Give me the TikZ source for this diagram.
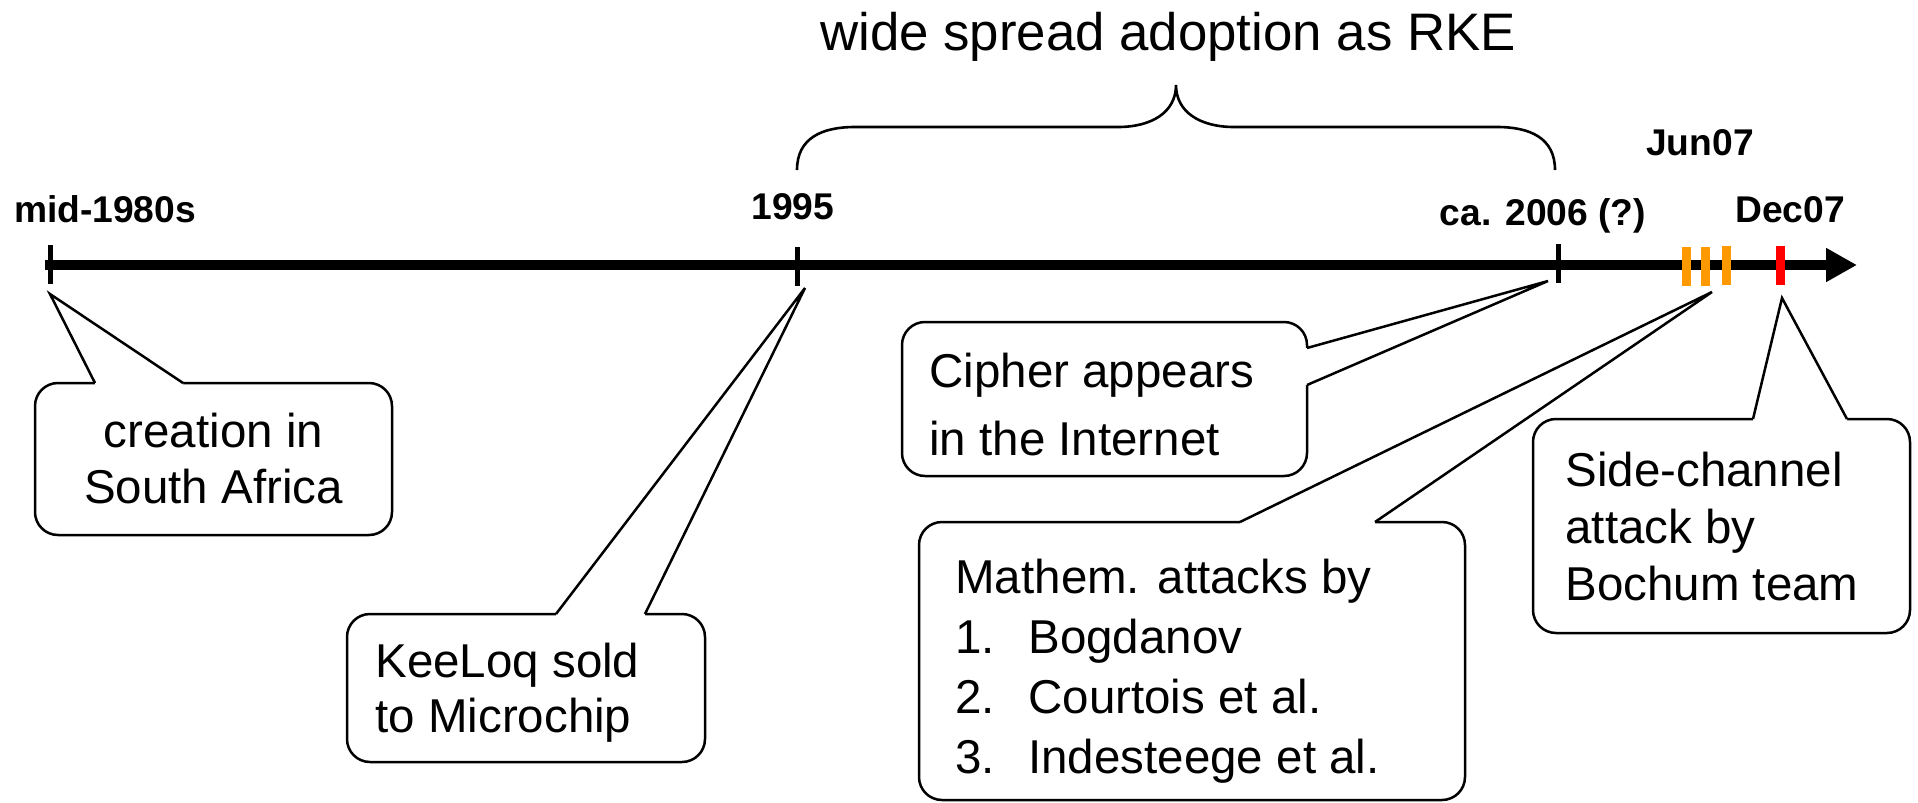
\documentclass[tikz,border=0pt]{standalone}
\usepackage{fontspec}
\setmainfont{Liberation Sans}
\usetikzlibrary{arrows.meta}
\definecolor{tickorange}{RGB}{255,153,0}
\definecolor{tickred}{RGB}{255,0,0}
\begin{document}
\begin{tikzpicture}[x=0.5pt,y=-0.5pt,
  box/.style={draw=black, line width=1.25pt, fill=white, rounded corners=11.5pt},
  tail/.style={draw=black, line width=1.25pt},
  cover/.style={fill=white, draw=none},
  txt/.style={inner sep=0pt, anchor=base west, font=\fontsize{23.75pt}{28pt}\selectfont},
  ctxt/.style={txt, anchor=base},
  lbl/.style={inner sep=0pt, anchor=base, font=\bfseries\fontsize{18.6pt}{22pt}\selectfont},
  title/.style={inner sep=0pt, anchor=base, font=\fontsize{26.4pt}{30pt}\selectfont},
  blacktick/.style={line width=2.5pt, draw=black},
  orangetick/.style={line width=4.5pt, draw=tickorange},
  redtick/.style={line width=4.5pt, draw=tickred},
  axis/.style={line width=5pt, draw=black, -{Triangle[length=15.5pt,width=16pt]}},
  bracestyle/.style={line width=1.3pt, draw=black}
]
\useasboundingbox (0,0) rectangle (1918,803);

% timeline
\coordinate (tstart) at (45,265);
\coordinate (tend) at (1857,265);
\draw[axis] (tstart) -- (tend);

% ticks
\coordinate (t1a) at (50,245);   \coordinate (t1b) at (50,284);
\coordinate (t2a) at (797,247);  \coordinate (t2b) at (797,286);
\coordinate (t3a) at (1558,244); \coordinate (t3b) at (1558,283);
\draw[blacktick] (t1a) -- (t1b);
\draw[blacktick] (t2a) -- (t2b);
\draw[blacktick] (t3a) -- (t3b);
\coordinate (o1a) at (1686,247); \coordinate (o1b) at (1686,286);
\coordinate (o2a) at (1705,247); \coordinate (o2b) at (1705,286);
\coordinate (o3a) at (1726,246); \coordinate (o3b) at (1726,285);
\coordinate (r1a) at (1780,246); \coordinate (r1b) at (1780,285);
\draw[orangetick] (o1a) -- (o1b);
\draw[orangetick] (o2a) -- (o2b);
\draw[orangetick] (o3a) -- (o3b);
\draw[redtick] (r1a) -- (r1b);

% labels
\node[lbl] (lmid) at (105,222) {mid-1980s};
\node[lbl] (l1995) at (793,219) {1995};
\node[lbl] (l2006) at (1543,225) {ca. 2006 (?)};
\node[lbl] (ljun) at (1700,155) {Jun07};
\node[lbl] (ldec) at (1790,222) {Dec07};

% brace and title
\node[title] (ttl) at (1168,50) {wide spread adoption as RKE};
\coordinate (bl) at (797,170);
\coordinate (br) at (1555,170);
\coordinate (bpeak) at (1176,85);
\draw[bracestyle] (bl) .. controls (797,138) and (822,127) .. (855,127) -- (1118,127)
  .. controls (1152,127) and (1176,112) .. (bpeak)
  .. controls (1176,112) and (1200,127) .. (1234,127) -- (1497,127)
  .. controls (1530,127) and (1555,138) .. (br);

% callout 1: creation
\draw[box] (35,383) rectangle (392,535);
\coordinate (c1tip) at (50,294);
\fill[cover] (95,387) -- (95,383) -- (c1tip) -- (183,383) -- (183,387) -- cycle;
\draw[tail] (95,383) -- (c1tip) -- (183,383);
\node[ctxt] (c1l1) at (213.5,447) {creation in};
\node[ctxt] (c1l2) at (213.5,503) {South Africa};

% callout 2: KeeLoq
\draw[box] (347,614) rectangle (705,762);
\coordinate (c2tip) at (805,288);
\fill[cover] (556,618) -- (556,614) -- (c2tip) -- (645,614) -- (645,618) -- cycle;
\draw[tail] (556,614) -- (c2tip) -- (645,614);
\node[txt] (c2l1) at (375,677) {KeeLoq sold};
\node[txt] (c2l2) at (375,732) {to Microchip};

% callout 3: Cipher
\draw[box] (902,322) rectangle (1307,476);
\coordinate (c3tip) at (1548,281);
\fill[cover] (1303,348) -- (1307,348) -- (c3tip) -- (1307,385) -- (1303,385) -- cycle;
\draw[tail] (1307,348) -- (c3tip) -- (1307,385);
\node[txt] (c3l1) at (929,387) {Cipher appears};
\node[txt] (c3l2) at (929,455) {in the Internet};

% callout 4: Mathem
\draw[box] (919,522) rectangle (1465,800);
\coordinate (c4tip) at (1712,292);
\fill[cover] (1240,526) -- (1240,522) -- (c4tip) -- (1375,522) -- (1375,526) -- cycle;
\draw[tail] (1240,522) -- (c4tip) -- (1375,522);
\node[txt] (c4l1) at (955,593) {Mathem. attacks by};
\node[txt] (c4l2) at (955,653) {\makebox[36.5pt][l]{1.}Bogdanov};
\node[txt] (c4l3) at (955,713) {\makebox[36.5pt][l]{2.}Courtois et al.};
\node[txt] (c4l4) at (955,773) {\makebox[36.5pt][l]{3.}Indesteege et al.};

% callout 5: Side-channel
\draw[box] (1533,419) rectangle (1910,633);
\coordinate (c5tip) at (1782,298);
\fill[cover] (1753,423) -- (1753,419) -- (c5tip) -- (1847,419) -- (1847,423) -- cycle;
\draw[tail] (1753,419) -- (c5tip) -- (1847,419);
\node[txt] (c5l1) at (1565,486) {Side-channel};
\node[txt] (c5l2) at (1565,543) {attack by};
\node[txt] (c5l3) at (1565,600) {Bochum team};
\end{tikzpicture}
\end{document}
